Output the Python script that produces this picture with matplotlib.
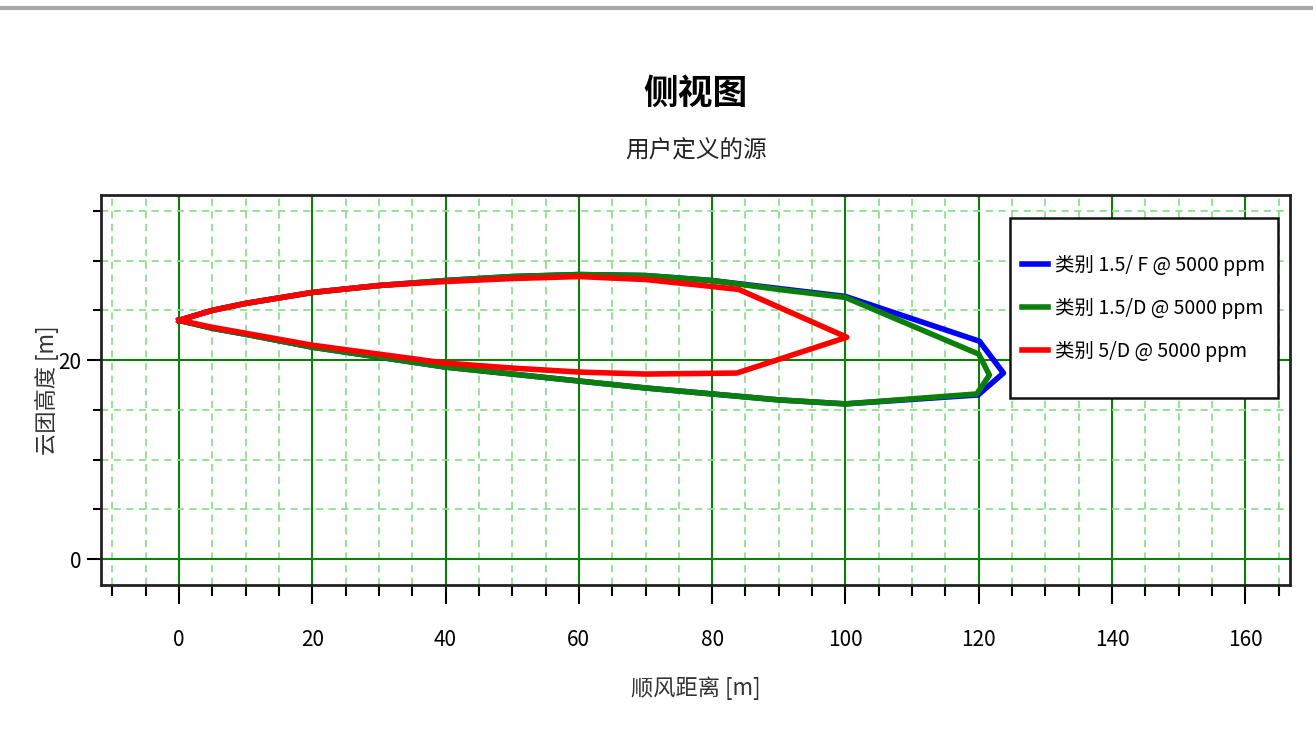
import matplotlib
matplotlib.use("Agg")
import matplotlib.pyplot as plt
from matplotlib.lines import Line2D
from matplotlib.patches import Rectangle
from matplotlib.ticker import MultipleLocator

plt.rcParams['font.family'] = ['Noto Sans CJK SC', 'DejaVu Sans']

# 类别 1.5/F
f15_x = [0, 5, 10, 20, 30, 40, 50, 60, 70, 80, 90, 100, 120.1, 123.7, 119.9, 100, 90, 80, 70, 60, 50, 40, 30, 20, 10, 5, 0]
f15_y = [24.0, 25.0, 25.7, 26.8, 27.5, 28.0, 28.4, 28.6, 28.5, 28.0, 27.2, 26.4, 21.9, 18.7, 16.5, 15.6, 16.0, 16.6, 17.2, 17.9, 18.6, 19.3, 20.3, 21.3, 22.6, 23.2, 24.0]

# 类别 1.5/D
d15_x = [0, 5, 10, 20, 30, 40, 50, 60, 70, 80, 90, 100, 120.0, 121.6, 119.7, 100, 90, 80, 70, 60, 50, 40, 30, 20, 10, 5, 0]
d15_y = [24.0, 25.0, 25.7, 26.8, 27.5, 28.0, 28.4, 28.6, 28.5, 28.0, 27.1, 26.3, 20.6, 18.5, 16.6, 15.6, 16.0, 16.6, 17.2, 17.9, 18.6, 19.3, 20.3, 21.3, 22.6, 23.2, 24.0]

# 类别 5/D
d5_x = [0, 5, 10, 20, 30, 40, 50, 60, 70, 80, 84, 100.2, 83.7, 70, 60, 50, 40, 30, 20, 10, 5, 0]
d5_y = [24.0, 25.0, 25.7, 26.8, 27.5, 27.9, 28.2, 28.4, 28.1, 27.4, 27.1, 22.3, 18.7, 18.6, 18.8, 19.2, 19.7, 20.6, 21.5, 22.7, 23.3, 24.0]

labels = ["类别 1.5/ F @ 5000 ppm", "类别 1.5/D @ 5000 ppm", "类别 5/D @ 5000 ppm"]

fig = plt.figure(figsize=(13.13, 7.43), dpi=100)
ax = fig.add_axes([0.0769, 0.2127, 0.9056, 0.5249])

ax.plot(f15_x, f15_y, color="#0000FF", lw=4, label=labels[0])
ax.plot(d15_x, d15_y, color="#0A800A", lw=4, label=labels[1])
ax.plot(d5_x, d5_y, color="#FF0000", lw=4, label=labels[2])

ax.set_xlim(-11.7, 166.7)
ax.set_ylim(-2.6, 36.6)
ax.xaxis.set_major_locator(MultipleLocator(20))
ax.xaxis.set_minor_locator(MultipleLocator(5))
ax.yaxis.set_major_locator(MultipleLocator(20))
ax.yaxis.set_minor_locator(MultipleLocator(5))

ax.grid(which="minor", color="#8CE08C", linestyle=(0, (4, 3)), lw=1.3)
ax.grid(which="major", color="#0A800A", linestyle="-", lw=1.5)
ax.set_axisbelow(True)

for s in ax.spines.values():
    s.set_linewidth(2)
    s.set_color("#222222")

ax.tick_params(axis="x", which="major", length=14, width=1.5, pad=18, labelsize=15)
ax.tick_params(axis="x", which="minor", length=8, width=1.5)
ax.tick_params(axis="y", which="major", length=10, width=1.5, pad=4, labelsize=15)
ax.tick_params(axis="y", which="minor", length=6, width=1.5)

ax.set_xlabel("顺风距离 [m]", fontsize=16, color="#333333", labelpad=18)
ax.set_ylabel("云团高度 [m]", fontsize=16, color="#333333", labelpad=0)

# legend frame
box = Rectangle((0.7645, 0.479), 0.2254, 0.462, transform=ax.transAxes,
                facecolor="white", edgecolor="#111111", lw=1.8, zorder=5)
ax.add_patch(box)
leg = ax.legend(loc="center", bbox_to_anchor=(0.7645 + 0.2254 / 2, 0.479 + 0.462 / 2),
                fontsize=14, frameon=False, labelspacing=1.13, handlelength=1.3,
                handletextpad=0.4, borderpad=0)
leg.set_zorder(6)

fig.text(0.53, 0.875, "侧视图", ha="center", va="center", fontsize=25, fontweight="bold")
fig.text(0.53, 0.797, "用户定义的源", ha="center", va="center", fontsize=17, color="#222222")

fig.add_artist(Line2D([0, 1], [0.989, 0.989], color="#A8A8A8", lw=3))

fig.savefig("out.png", dpi=100)
